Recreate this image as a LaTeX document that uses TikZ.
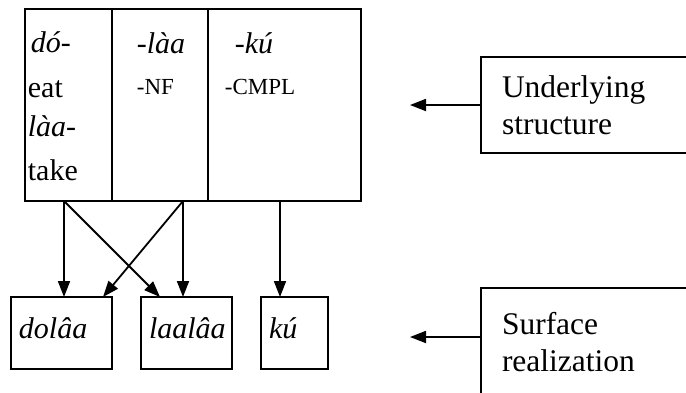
\documentclass[tikz,border=0pt]{standalone}
\usepackage{fontspec}
\setmainfont{Liberation Serif}
\usetikzlibrary{arrows.meta}
\tikzset{
  box/.style={draw, line width=1.8pt, inner sep=0pt, outer sep=0pt, anchor=north west},
  word/.style={anchor=base west, inner sep=0pt, font=\fontsize{30}{36}\selectfont},
  gloss/.style={anchor=base west, inner sep=0pt, font=\fontsize{23}{27}\selectfont},
  form/.style={box, inner xsep=8pt, align=left, text depth=10pt, minimum height=72pt, font=\fontsize{30}{36}\selectfont\itshape},
  level/.style={box, inner xsep=21pt, text width=180pt, align=left, font=\fontsize{31.5}{37}\selectfont},
  >={Triangle[length=16pt,width=12pt]}
}

\begin{document}
\begin{tikzpicture}[x=1pt,y=-1pt,line width=1.8pt]
					%\draw [help lines] (0,0) grid (686,392);
					\clip (0,0) rectangle (686,392);
					%tabella
					\node[box, minimum width=87pt, minimum height=192pt] (stem) at (25,9) {};
					\node[box, minimum width=96pt, minimum height=192pt] (nf) at (112,9) {};
					\node[box, minimum width=153pt, minimum height=192pt] (cmpl) at (208,9) {};
					\node[word] (do) at (30,52) {\textit{dó-}};
					\node[word] (eat) at (27,97) {eat};
					\node[word] (laa) at (27,136) {\textit{làa-}};
					\node[word] (take) at (27,180) {take};
					\node[word] (laasfx) at (136,53) {\textit{-làa}};
					\node[word] (kusfx) at (234,53) {\textit{-kú}};
					\node[gloss] (nfgl) at (136,94) {-NF};
					\node[gloss] (cmplgl) at (224,94) {-CMPL};
					%forme
					\node[form, text width=85pt] (dola) at (11,297) {dolâa};
					\node[form, text width=75pt] (laal) at (141,297) {laalâa};
					\node[form, text width=51pt] (ku) at (261,297) {kú};
					\coordinate (a1) at (64,201);
					\coordinate (a2) at (183,201);
					\coordinate (a3) at (280,201);
					\draw [->] (a1) -- (a1 |- dola.north);
					\draw [->] (a1) -- ([xshift=19pt]laal.north west);
					\draw [->] (a2) -- ([xshift=-9pt]dola.north east);
					\draw [->] (a2) -- (a2 |- laal.north);
					\draw [->] (a3) -- (a3 |- ku.north);
					%livelli
					\node[level, minimum height=96pt] (under) at (481,57) {Underlying\\structure};
					\node[level, minimum height=108pt] (surf) at (481,288) {Surface\\realization};
					\coordinate (ua) at (410,105);
					\coordinate (sa) at (410,337);
					\draw [->] (under.west) -- (ua);
					\draw [->] (sa -| surf.west) -- (sa);
		\end{tikzpicture}
\end{document}
